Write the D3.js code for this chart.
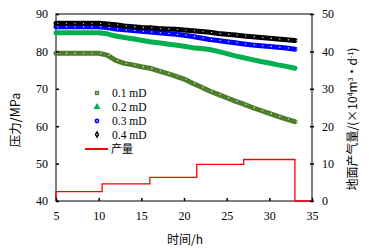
<!DOCTYPE html>
<html><head><meta charset="utf-8">
<script src="https://cdn.jsdelivr.net/npm/d3@7"></script>
<style>body{margin:0;background:#fff}svg{display:block}</style>
</head><body><svg id="c" width="369" height="250"></svg>
<script>
const hours = [5,6,7,8,9,10,11,12,13,14,15,16,17,18,19,20,21,22,23,24,25,26,27,28,29,30,31,32,33];
const p01 = [79.5,79.5,79.5,79.5,79.5,79.5,79.0,77.6,76.8,76.4,75.9,75.5,74.8,74.1,73.4,72.6,71.5,70.5,69.4,68.5,67.6,66.7,65.9,65.0,64.2,63.4,62.6,61.9,61.2];
const p02 = [85.0,85.0,85.0,85.0,85.0,85.0,84.7,84.1,83.7,83.4,83.0,82.6,82.3,82.0,81.7,81.4,81.0,80.8,80.5,80.0,79.4,78.8,78.3,77.8,77.3,76.9,76.4,76.0,75.5];
const p03 = [86.6,86.6,86.6,86.6,86.6,86.6,86.4,86.0,85.8,85.6,85.4,85.2,85.0,84.8,84.6,84.3,84.0,83.6,83.2,82.9,82.6,82.3,82.0,81.7,81.5,81.3,81.1,80.9,80.6];
const p04 = [87.5,87.5,87.5,87.5,87.5,87.5,87.3,87.1,86.8,86.6,86.4,86.3,86.1,86.0,85.9,85.7,85.5,85.3,85.1,84.8,84.6,84.4,84.1,83.9,83.7,83.5,83.3,83.1,82.9];
const prodTimes = [5,5,10.4,16,21.5,27,33,35];
const prodValues = [0,2.5,4.6,6.3,9.8,11.1,0,0];
const xTicks = [5,10,15,20,25,30,35];
const yLeftTicks = [40,50,60,70,80,90];
const yRightTicks = [0,10,20,30,40,50];
const seriesNames = ["0.1 mD","0.2 mD","0.3 mD","0.4 mD"];
const prodName = "产量";

const svg = d3.select("#c");
const L=56,R=312,T=14,B=201;
const x = d3.scaleLinear().domain([5,35]).range([L,R]);
const yL = d3.scaleLinear().domain([40,90]).range([B,T]);
const yR = d3.scaleLinear().domain([0,50]).range([B,T]);
const font = "'Liberation Serif','Times New Roman',serif";
const cjk = "'Noto Sans CJK SC',sans-serif";
const axisCol = "#555";

svg.append("rect").attr("x",L).attr("y",T).attr("width",R-L).attr("height",B-T)
  .attr("fill","none").attr("stroke",axisCol).attr("stroke-width",1.5);

const prodData = prodTimes.map((t,i)=>[t,prodValues[i]]);
svg.append("path").datum(prodData)
  .attr("d",d3.line().x(d=>x(d[0])).y(d=>yR(d[1])).curve(d3.curveStepAfter))
  .attr("fill","none").attr("stroke","#ff0000").attr("stroke-width",1.3);

const series = [
  {name:seriesNames[0],vals:p01,col:"#4e7d2c",shape:"square"},
  {name:seriesNames[1],vals:p02,col:"#00b050",shape:"triangle"},
  {name:seriesNames[2],vals:p03,col:"#0000ff",shape:"circle"},
  {name:seriesNames[3],vals:p04,col:"#000000",shape:"diamond"}
];
const shapeType = {square:d3.symbolSquare,triangle:d3.symbolTriangle,circle:d3.symbolCircle,diamond:d3.symbolDiamond};

series.forEach(s=>{
  const data = hours.map((h,i)=>[h,s.vals[i]]);
  svg.append("path").datum(data)
    .attr("d",d3.line().x(d=>x(d[0])).y(d=>yL(d[1])))
    .attr("fill","none").attr("stroke",s.col).attr("stroke-width",5).attr("stroke-linejoin","round").attr("stroke-linecap","round");
  svg.append("g").selectAll("circle").data(data).join("circle")
    .attr("cx",d=>x(d[0])+2).attr("cy",d=>yL(d[1])).attr("r",0.7).attr("fill","#fff").attr("opacity",s.shape==="triangle"?0:0.85);
});

const gl = svg.append("g").attr("transform",`translate(${L},0)`)
  .call(d3.axisLeft(yL).tickValues(yLeftTicks).tickSize(-3).tickPadding(8));
const gr = svg.append("g").attr("transform",`translate(${R},0)`)
  .call(d3.axisRight(yR).tickValues(yRightTicks).tickSize(-3).tickPadding(10));
const gb = svg.append("g").attr("transform",`translate(0,${B})`)
  .call(d3.axisBottom(x).tickValues(xTicks).tickSize(-3).tickPadding(10));
[gl,gr,gb].forEach(g=>{
  g.select(".domain").remove();
  g.selectAll(".tick line").attr("stroke","#000").attr("stroke-width",1.5);
  g.selectAll(".tick text").attr("font-family",font).attr("font-size",12).attr("fill","#000");
});
gr.selectAll(".tick line").attr("x2",-2).attr("x1",2);

const lx=97, ly=[93,107,121,134.5];
series.forEach((s,i)=>{
  svg.append("path").attr("transform",`translate(${lx},${ly[i]})`)
    .attr("d",d3.symbol().type(shapeType[s.shape]).size(s.shape==="triangle"?22:18)())
    .attr("fill",s.col);
  if(s.shape!=="triangle") svg.append("circle").attr("cx",lx).attr("cy",ly[i]).attr("r",0.8).attr("fill","#fff");
  svg.append("text").attr("x",112).attr("y",ly[i]+4).text(s.name)
    .attr("font-family",font).attr("font-size",11.5).attr("fill","#000");
});
svg.append("line").attr("x1",85).attr("x2",108).attr("y1",149).attr("y2",149).attr("stroke","#ff0000").attr("stroke-width",2);
svg.append("text").attr("x",111).attr("y",153).text(prodName)
  .attr("font-family",cjk).attr("font-size",11).attr("fill","#000");

svg.append("text").attr("transform","translate(20,120) rotate(-90)").attr("text-anchor","middle")
  .attr("font-family",cjk).attr("font-size",12.5).attr("fill","#000").text("压力/MPa");
const rt = svg.append("text").attr("transform","translate(357,119) rotate(-90)").attr("text-anchor","middle")
  .attr("font-family",cjk).attr("font-size",12).attr("fill","#000");
rt.append("tspan").text("地面产气量/(×10");
rt.append("tspan").attr("font-size",7).attr("dy",-4).text("4");
rt.append("tspan").attr("dy",4).text("m");
rt.append("tspan").attr("font-size",7).attr("dy",-4).text("3");
rt.append("tspan").attr("dy",4).text("·d");
rt.append("tspan").attr("font-size",7).attr("dy",-4).text("-1");
rt.append("tspan").attr("dy",4).text(")");
svg.append("text").attr("x",185).attr("y",244).attr("text-anchor","middle")
  .attr("font-family",cjk).attr("font-size",12).attr("fill","#000").text("时间/h");
</script></body></html>
